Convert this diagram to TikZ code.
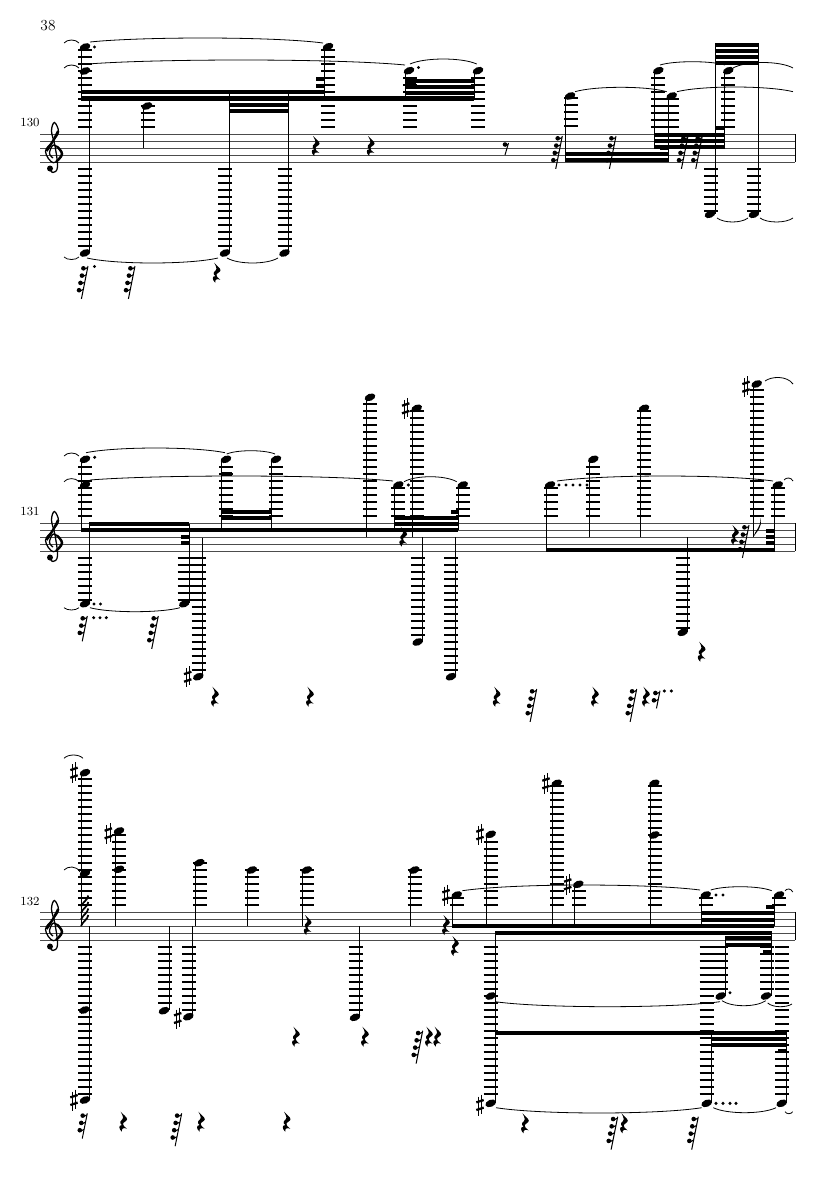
\documentclass[tikz,border=0pt]{standalone}
\usepackage{xcolor}
\usepackage{tikz}

\tikzset{
    stemline/.style = {line width = 0.75pt},
    ledgerline/.style = {line width = 1.05pt},
    staffline/.style = {line width = 0.65pt, black!70},
    beamline/.style = {line width = 3pt},
    tieline/.style = {line width = 0.6pt},
    barnum/.style = {inner sep = 0pt, font = \fontsize{9.3}{10}\selectfont},
    pagenum/.style = {inner sep = 0pt, font = \fontsize{11.5}{12}\selectfont}
}

\newcommand{\nhead}[2]{\fill[shift = {(#1, #2)}, rotate = 22] (0, 0) ellipse [x radius = 5.6, y radius = 3.5];}
\newcommand{\nstem}[3]{\draw[stemline] (#1, #2) -- (#1, #3);}
\newcommand{\nbeam}[3]{\draw[beamline] (#1, #3) -- (#2, #3);}
\newcommand{\nled}[3]{\foreach \k in {1, ..., #3} {\draw[ledgerline] ({#1 - 7}, {round(#2 + 7*(\k - 1))}) -- ({#1 + 7}, {round(#2 + 7*(\k - 1))});}}
\newcommand{\ndot}[2]{\fill (#1, #2) circle(1.7);}
\newcommand{\ntie}[5]{%
    \pgfmathsetmacro{\cxa}{#1 + 0.22*(#3 - #1)}
    \pgfmathsetmacro{\cxb}{#3 - 0.22*(#3 - #1)}
    \pgfmathsetmacro{\cya}{#2 + 1.33*(#5 - #2)}
    \pgfmathsetmacro{\cyb}{#4 + 1.33*(#5 - #4)}
    \draw[tieline] (#1, #2) .. controls (\cxa, \cya) and (\cxb, \cyb) .. (#3, #4);}
\newcommand{\nsharp}[2]{%
    \begin{scope}[shift = {(#1, #2)}]
        \draw[line width = 0.6pt] (-1.6, -8.5) -- (-1.6, 10.5);
        \draw[line width = 0.6pt] (1.6, -10.5) -- (1.6, 8.5);
        \draw[line width = 1.7pt] (-3.7, -2.6) -- (3.7, -5);
        \draw[line width = 1.7pt] (-3.7, 5) -- (3.7, 2.6);
    \end{scope}}
\newcommand{\qrest}[2]{%
    \begin{scope}[shift = {(#1, #2)}]
        \fill (-2.6, -10) .. controls (0, -7) and (3.8, -4.5) .. (3.8, -2.5)
            .. controls (3.8, -0.5) and (-0.3, 0.5) .. (-0.3, 2.2)
            .. controls (-0.3, 3.8) and (1, 5) .. (3.6, 7)
            .. controls (0.5, 5.8) and (-2, 6.4) .. (-1.4, 10)
            .. controls (-4.6, 7.5) and (-5, 3.2) .. (-1.4, 3.4)
            .. controls (-3, 2) and (-3.6, 0.8) .. (-2.8, -0.4)
            .. controls (-1.8, -1.8) and (-0.2, -2.6) .. (-0.2, -4)
            .. controls (-0.2, -5.6) and (-1.4, -7.6) .. (-2.6, -10) -- cycle;
    \end{scope}}
\newcommand{\frest}[3]{%
    \begin{scope}[shift = {(#1, #2)}]
        \draw[line width = 0.75pt] (0, 0) -- ({-0.2*(7.6*#3 + 2.5)}, {7.6*#3 + 2.5});
        \foreach \k in {1, ..., #3} {
            \fill ({-0.2*7.3*(\k - 1) - 4.6}, {7.3*(\k - 1) + 2.3}) circle(2.3);
            \draw[line width = 0.85pt] ({-0.2*7.3*(\k - 1) - 4.6}, {7.3*(\k - 1) + 3.6}) -- ({-0.2*7.3*(\k - 1) - 0.4}, {7.3*(\k - 1) + 1.6});
        }
    \end{scope}}
\newcommand{\nclef}[1]{%
    \begin{scope}[shift = {(0, #1)}]
        \draw[line width = 0.95pt] plot[smooth, tension = 0.65] coordinates {(49.5, 34.5) (53, 38.5) (57.5, 33) (55, 12) (51.5, -3) (54.5, -11.5) (58.5, -2) (53, 7) (45.5, 17.5) (53.3, 28.7) (62.4, 20) (54, 11) (49.5, 19) (53, 24)};
        \draw[line width = 1.8pt] plot[smooth, tension = 0.65] coordinates {(58.2, -3) (53, 7) (46.5, 17)};
        \draw[line width = 1.8pt] plot[smooth, tension = 0.65] coordinates {(56, 28) (62, 20) (57, 12.5)};
        \fill (50, 34.5) circle(3);
    \end{scope}}
\newcommand{\nstaff}[1]{%
    \foreach \k in {0, ..., 4} {\draw[staffline] (40, {#1 + 7*\k}) -- (795, {#1 + 7*\k});}
    \draw[stemline] (795, #1) -- (795, {#1 + 28});
    \nclef{#1}}

\begin{document}
\begin{tikzpicture}[x = 0.75pt, y = -0.75pt]
    \useasboundingbox (0, 0) rectangle (835, 1181);
    \fill[white] (0, 0) rectangle (835, 1181);

    \node[pagenum] (page) at (48, 26) {38};
    \node[barnum] (bar130) at (30, 123) {130};
    \node[barnum] (bar131) at (30, 512) {131};
    \node[barnum] (bar132) at (30, 901) {132};

    \nstaff{134}
    \nstaff{523}
    \nstaff{912}

    % first line
    \ntie{64}{43}{79}{43}{40}
    \ntie{64}{68}{79}{68}{65}
    \ntie{64}{257}{79}{257}{259.5}
    \nled{85}{50}{12}
    \nled{85}{169}{12}
    \nhead{85}{47}
    \nhead{85}{71}
    \nhead{85}{253}
    \ndot{94.5}{47}
    \nstem{81}{47}{99}
    \nstem{89}{98}{252}
    \ntie{90}{42}{323}{43}{38}
    \ntie{88}{64}{405}{65}{60}
    \ntie{87}{258}{218}{258}{263}
    \ntie{227}{258}{278}{258}{263}
    \nbeam{81}{324}{92}
    \nbeam{81}{474}{98.5}
    \nled{147.5}{106}{4}
    \nhead{147}{106}
    \nstem{143}{106}{148}
    \nled{225}{169}{12}
    \nhead{225}{253}
    \nstem{229}{92}{252}
    \nled{284.5}{169}{12}
    \nhead{284.5}{253}
    \nstem{288}{92}{252}
    \nbeam{229}{288}{104.5}
    \nbeam{229}{288}{110.5}
    \frest{88}{266}{4}
    \ndot{94.5}{266.5}
    \frest{135}{266}{4}
    \qrest{216.7}{272.7}
    \qrest{315.7}{146}
    \qrest{370.7}{146}
    \nled{328}{50}{12}
    \nhead{328}{46.7}
    \nstem{324}{47}{99}
    \nbeam{316}{324}{78.7}
    \nbeam{316}{324}{85.7}
    \nled{410}{78}{8}
    \nhead{409}{70.7}
    \ndot{418.5}{67.5}
    \nstem{405}{70.7}{99}
    \nled{478}{78}{8}
    \nhead{478}{70.7}
    \nstem{474}{70.7}{99}
    \nbeam{405}{474}{81}
    \nbeam{405}{474}{87}
    \nbeam{405}{474}{93}
    \nbeam{405}{416}{85}
    \ntie{410}{64}{476.7}{64}{59}
    \draw[stemline] (508.5, 143) -- (505, 155);
    \fill (505, 144.5) circle(2.3);
    \draw[line width = 0.85pt] (505, 146) -- (508, 144.5);
    \frest{562.3}{136}{4}
    \nled{571}{98.3}{5}
    \nhead{570}{96}
    \nstem{565.3}{96}{162}
    \nbeam{565.3}{668.3}{154.3}
    \nbeam{565.3}{668.3}{160.3}
    \frest{616}{136}{4}
    \nled{658.3}{78}{8}
    \nhead{658.3}{70.7}
    \nstem{654}{70.7}{149}
    \nled{672}{99}{5}
    \nhead{671.7}{96}
    \nstem{668.3}{96}{162}
    \nbeam{654}{724.7}{135}
    \nbeam{654}{724.7}{141}
    \nbeam{654}{724.7}{147}
    \nbeam{660}{668.3}{147.5}
    \nbeam{716}{724.7}{128.3}
    \nled{728.3}{78}{8}
    \nhead{728.3}{70.7}
    \nstem{724.7}{70.7}{149}
    \frest{688}{136}{4}
    \frest{702.3}{136}{4}
    \nled{711}{169}{7}
    \nhead{710}{214.3}
    \nstem{715.3}{43}{214}
    \nled{754}{169}{7}
    \nhead{754}{214.3}
    \nstem{758.7}{43}{214}
    \nbeam{715.3}{758.7}{45}
    \nbeam{715.3}{758.7}{50.7}
    \nbeam{715.3}{758.7}{56.7}
    \nbeam{715.3}{758.7}{62.7}
    \ntie{575}{91.7}{666.7}{91.7}{87.3}
    \ntie{677}{91.7}{793}{91.7}{87}
    \ntie{660}{65}{725}{65}{61.7}
    \ntie{733}{68}{793}{68}{62.5}
    \ntie{717}{218}{748}{218}{222}
    \ntie{760}{218}{793}{218}{222}

    % second line
    \ntie{64}{456}{79}{456}{453}
    \ntie{64}{481.7}{79}{481.7}{478.6}
    \ntie{64}{607.7}{79}{607.7}{610}
    \nled{85}{467}{8}
    \nhead{85}{459.3}
    \nhead{85}{485}
    \ndot{94.7}{457.3}
    \nstem{81}{459}{530}
    \nbeam{81}{458.3}{530}
    \nbeam{89}{189}{524.3}
    \nstem{89}{524}{602.7}
    \nstem{189}{524}{602.7}
    \nbeam{181}{189}{536.7}
    \nbeam{181}{189}{542.7}
    \nled{85}{558}{7}
    \nled{184.5}{558}{7}
    \nhead{85}{603.7}
    \nhead{184.3}{603.7}
    \ndot{94}{604}
    \ndot{100.5}{604}
    \ntie{90}{607.7}{180}{607.7}{611.7}
    \frest{87.3}{616}{3}
    \ndot{93.7}{617.7}
    \ndot{100}{617.7}
    \ndot{106.3}{617.7}
    \frest{158.3}{616}{4}
    \nled{198.5}{557.7}{17}
    \nhead{198.3}{676.7}
    \nstem{202.7}{537.7}{676}
    \nsharp{187.7}{676.7}
    \qrest{215}{696.7}
    \qrest{310}{696.7}
    \nled{226}{467}{8}
    \nhead{226}{459.3}
    \nstem{221.3}{459}{530}
    \nled{276}{467}{8}
    \nhead{276}{459.3}
    \nstem{271.3}{459}{530}
    \nbeam{221.3}{271.3}{511.7}
    \nbeam{221.3}{271.3}{517.7}
    \nbeam{221.3}{232}{474.3}
    \ntie{226.7}{454}{275}{454}{450.7}
    \ntie{86}{452.7}{225}{452.7}{448}
    \ntie{90}{480}{393}{481}{476}
    \nled{370}{404}{17}
    \nhead{370}{397.3}
    \nstem{366}{397}{537}
    \nled{398}{488.3}{5}
    \nhead{398.3}{485}
    \ndot{408.3}{485}
    \nstem{394.3}{485}{530}
    \nled{417}{411}{16}
    \nhead{416.7}{408.3}
    \nsharp{405.7}{408.3}
    \nstem{412}{408}{537}
    \nled{463}{488.3}{5}
    \nhead{462.7}{485}
    \nstem{458.3}{485}{530}
    \nbeam{394.3}{458.3}{517.7}
    \nbeam{394.3}{458.3}{524.3}
    \nbeam{451}{458.3}{511.7}
    \ntie{404}{481.7}{456.7}{481.7}{476.7}
    \qrest{403.3}{536.7}
    \nled{418}{558}{12}
    \nhead{417.7}{642}
    \nstem{422.3}{537}{642}
    \nled{451}{558}{17}
    \nhead{451}{676.7}
    \nstem{455.3}{537}{676}
    \qrest{496.7}{696.7}
    \frest{536.7}{689}{4}
    \qrest{595}{696.7}
    \frest{636.7}{689}{4}
    \qrest{646}{696.7}
    \frest{660}{690.7}{2}
    \ndot{664.3}{691}
    \ndot{671.3}{691}
    \nled{551}{488.3}{5}
    \nhead{550}{485}
    \nstem{546.7}{485}{552}
    \foreach \dx in {559, 566, 573, 580, 587} {\ndot{\dx}{485}}
    \nled{593}{467}{8}
    \nhead{593.3}{459.3}
    \nstem{589.3}{459}{537}
    \nbeam{546.7}{774}{550}
    \ntie{557}{481}{773}{481}{476}
    \nled{644}{411}{16}
    \nhead{644}{408.3}
    \nstem{640.3}{408}{537}
    \nled{683}{558}{11}
    \nhead{682.7}{632.3}
    \nstem{687}{537}{632}
    \qrest{701.7}{651.7}
    \nled{757}{390}{19}
    \nhead{756.7}{384}
    \nsharp{746}{386.7}
    \nstem{753.3}{384}{537}
    \fill (753.3, 537) .. controls (755, 530) and (761, 528) .. (760.5, 518) .. controls (762.5, 528) and (757, 531) .. (753.3, 537) -- cycle;
    \qrest{735}{535}
    \frest{749}{525}{4}
    \nled{778}{488.3}{5}
    \nhead{777.7}{485}
    \nstem{774}{485}{552}
    \nbeam{766}{774}{531}
    \nbeam{766}{774}{537}
    \nbeam{766}{774}{543}
    \ntie{784}{480}{793}{481}{478}
    \ntie{765}{381}{793}{384}{377.5}

    % third line
    \ntie{64}{758.3}{83}{758.3}{755}
    \ntie{64}{870}{80}{872}{867}
    \nled{85}{779.3}{19}
    \nhead{85}{772.7}
    \nsharp{74}{772.7}
    \nhead{85}{873.3}
    \nstem{81}{772}{926}
    \foreach \fy in {926, 919.5, 913, 906.5} {
        \draw[line width = 1.3pt] (81, \fy) .. controls (83, {\fy - 5}) and (87.5, {\fy - 6}) .. (88.3, {\fy - 11});
    }
    \nstem{89}{926}{1100}
    \nled{85}{946.7}{22}
    \nhead{84.3}{1010}
    \nhead{85}{1100}
    \nsharp{74}{1100}
    \frest{87.3}{1113.3}{3}
    \nled{119.3}{834.7}{11}
    \nhead{119}{831}
    \nhead{119}{869.3}
    \nsharp{108.3}{833.3}
    \nstem{115.7}{831}{926}
    \qrest{123.3}{1121.7}
    \nled{165}{946.7}{9}
    \nhead{164}{1010.7}
    \nstem{169}{926}{1010}
    \nled{189}{946.7}{10}
    \nhead{188.3}{1016.7}
    \nsharp{177.7}{1018}
    \nstem{192.7}{926}{1017}
    \nled{200}{863}{7}
    \nhead{199.3}{862.7}
    \nstem{195.7}{862}{926}
    \frest{181.7}{1113.3}{4}
    \qrest{201}{1121.7}
    \nled{252}{870}{6}
    \nhead{251.7}{870}
    \nstem{247.3}{870}{926}
    \nled{307}{870}{6}
    \nhead{306.7}{870}
    \nstem{302}{870}{926}
    \qrest{307.7}{925}
    \nled{355.5}{947}{10}
    \nhead{355}{1017.3}
    \nstem{359.3}{926}{1017}
    \nled{414.5}{870}{6}
    \nhead{414.3}{870}
    \nstem{410.3}{870}{926}
    \qrest{446}{925}
    \qrest{455}{946}
    \nled{457}{898}{2}
    \nhead{456.7}{895}
    \nsharp{446}{895}
    \nstem{452.3}{895}{926}
    \qrest{296}{1036.7}
    \qrest{365}{1036.7}
    \frest{422.7}{1030.7}{4}
    \qrest{429}{1036.7}
    \qrest{437.3}{1036.7}
    \qrest{286.7}{1121.7}
    \nled{490.5}{841.7}{10}
    \nhead{490.7}{834.3}
    \nsharp{480}{834.3}
    \nstem{486}{834}{926}
    \nled{557}{786}{18}
    \nhead{556.7}{783.3}
    \nsharp{546}{783.3}
    \nstem{552.7}{783}{926}
    \nled{579}{891}{3}
    \nhead{578.3}{884.3}
    \nsharp{567.7}{884.3}
    \nstem{574.3}{884}{926}
    \nled{655}{786}{18}
    \nhead{654.3}{783.3}
    \nhead{654.3}{835}
    \nstem{650.7}{783}{926}
    \nled{706}{898}{2}
    \nhead{705.7}{895}
    \ndot{716}{895}
    \ndot{723}{895}
    \nstem{701.3}{895}{926}
    \nled{779}{898}{2}
    \nhead{779}{895}
    \nstem{774}{895}{926}
    \nbeam{766}{774}{907.3}
    \nbeam{452.3}{774}{925.7}
    \nbeam{701.3}{774}{913.3}
    \nbeam{701.3}{774}{920}
    \ntie{462.3}{890.7}{700}{890}{885}
    \ntie{710.7}{890}{771.7}{890.7}{886.7}
    \ntie{785}{890.7}{792.7}{892}{889}
    \nbeam{495}{771.7}{933.3}
    \nbeam{725}{771.7}{938.3}
    \nbeam{725}{771.7}{945}
    \nbeam{495}{786.7}{1032.7}
    \nbeam{711.3}{786.7}{1038.7}
    \nbeam{711.3}{786.7}{1045}
    \nled{490.5}{946.7}{22}
    \nhead{490.7}{996}
    \nhead{490.7}{1103.3}
    \nsharp{480}{1105}
    \nstem{495}{933}{1103}
    \nled{721}{946.7}{7}
    \nhead{720.7}{996}
    \ndot{730}{992.7}
    \nstem{725.3}{938}{996}
    \nled{706.7}{946.7}{22}
    \nhead{706.7}{1103.3}
    \foreach \dx in {716, 723, 730, 736} {\ndot{\dx}{1103.3}}
    \nstem{711.3}{1032}{1103}
    \nled{767}{946.7}{7}
    \nhead{766}{996}
    \nstem{771}{933}{996}
    \nbeam{763}{771}{951.7}
    \nled{782}{946.7}{22}
    \nhead{781.7}{1103.3}
    \nstem{786}{1032}{1103}
    \nbeam{778}{786}{1051}
    \ntie{495}{1001.7}{720}{1001.7}{1006.7}
    \ntie{722}{1000.7}{765.7}{1000.7}{1005.7}
    \ntie{767.7}{1003}{792}{1004}{1006.7}
    \ntie{496}{1107.7}{701.7}{1107.7}{1113}
    \ntie{713.3}{1107.7}{776}{1107.7}{1112.7}
    \ntie{785}{1111.7}{792.7}{1111.7}{1113.7}
    \qrest{525}{1123.3}
    \frest{617.7}{1116.7}{4}
    \qrest{624}{1123.3}
    \frest{698.3}{1116.7}{4}
\end{tikzpicture}
\end{document}
